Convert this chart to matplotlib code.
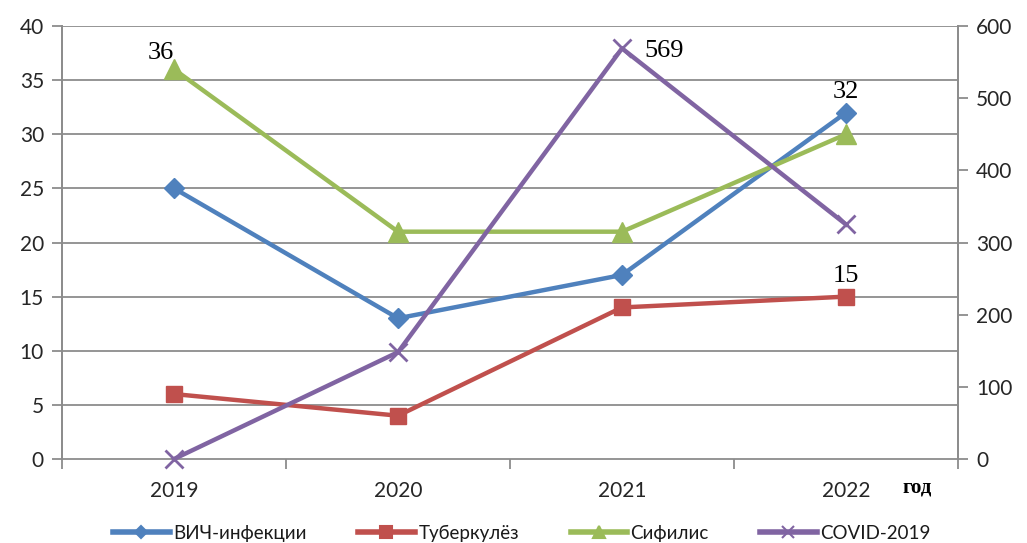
import matplotlib
matplotlib.use("Agg")
import matplotlib.pyplot as plt
from matplotlib.lines import Line2D

years = ["2019", "2020", "2021", "2022"]
hiv = [25, 13, 17, 32]
tb = [6, 4, 14, 15]
syph = [36, 21, 21, 30]
covid = [0, 148, 569, 325]

labels = ["ВИЧ-инфекции", "Туберкулёз", "Сифилис", "COVID-2019"]
colors = ["#4F81BD", "#C0504D", "#9BBB59", "#8064A2"]

fig = plt.figure(figsize=(10.27, 5.43), dpi=100)
ax = fig.add_axes([0.0604, 0.1547, 0.8724, 0.7974])
ax2 = ax.twinx()

x = list(range(len(years)))
grid_c = "#8C8C8C"
tick_font = "Lato"
lab_c = "#262626"

ax.set_xlim(-0.5, len(years) - 0.5)
ax.set_ylim(0, 40)
ax.set_yticks(range(0, 41, 5))
ax2.set_ylim(0, 600)
ax2.set_yticks(range(0, 601, 100))
for yv in range(5, 41, 5):
    ax.axhline(yv, color=grid_c, lw=1.3, zorder=0)

for a in (ax, ax2):
    for s in ("top", "bottom"):
        a.spines[s].set_visible(False)
    a.spines["left"].set_color(grid_c)
    a.spines["right"].set_color(grid_c)
    a.spines["left"].set_linewidth(1.3)
    a.spines["right"].set_linewidth(1.3)
ax.axhline(0, color=grid_c, lw=1.3, zorder=0, clip_on=False)

ax.set_xticks(x)
ax.set_xticklabels(years)
ax.set_xticks([i - 0.5 for i in range(len(years) + 1)], minor=True)
ax.tick_params(axis="x", which="major", length=0, pad=16, labelsize=15, labelcolor=lab_c)
ax.tick_params(axis="x", which="minor", length=7, color=grid_c, width=1.3, direction="out")
ax.tick_params(axis="y", length=7, color=grid_c, width=1.3, labelsize=15, labelcolor=lab_c, pad=6)
ax2.tick_params(axis="y", length=7, color=grid_c, width=1.3, labelsize=15, labelcolor=lab_c, pad=6)
for lbl in ax.get_xticklabels() + ax.get_yticklabels() + ax2.get_yticklabels():
    lbl.set_family(tick_font)

ax.plot(x, hiv, color=colors[0], lw=3.2, marker="D", ms=10, zorder=3, clip_on=False)
ax.plot(x, tb, color=colors[1], lw=3.2, marker="s", ms=12, zorder=3, clip_on=False)
ax.plot(x, syph, color=colors[2], lw=3.2, marker="^", ms=15, zorder=3, clip_on=False)
ax2.plot(x, covid, color=colors[3], lw=3.2, marker="x", ms=13, mew=2, zorder=3, clip_on=False)

serif = "Liberation Serif"
ax.text(x[0] - 0.06, syph[0] + 0.5, str(syph[0]), family=serif, fontsize=19, ha="center", va="bottom")
ax.text(x[3], hiv[3] + 0.9, str(hiv[3]), family=serif, fontsize=19, ha="center", va="bottom")
ax.text(x[3], tb[3] + 0.9, str(tb[3]), family=serif, fontsize=19, ha="center", va="bottom")
ax2.text(x[2] + 0.1, covid[2] - 3, str(covid[2]), family=serif, fontsize=19, ha="left", va="center")

fig.text(917 / 1027, 1 - 487 / 543, "год", family=serif, fontsize=15, fontweight="bold", ha="center", va="center")

markers = ["D", "s", "^", "x"]
msz = [6, 9, 9, 8]
handles = [Line2D([0], [0], color=c, lw=4, marker=m, ms=s, mew=1.5) for c, m, s in zip(colors, markers, msz)]
leg = fig.legend(handles, labels, loc="center", bbox_to_anchor=(522 / 1027, 1 - 533 / 543), ncol=4,
                 frameon=False, prop={"family": tick_font, "size": 13.5},
                 handlelength=3.0, columnspacing=2.75, handletextpad=0.2, borderaxespad=0, borderpad=0)
for t in leg.get_texts():
    t.set_color("#1a1a1a")

fig.savefig("out.png", dpi=100)
